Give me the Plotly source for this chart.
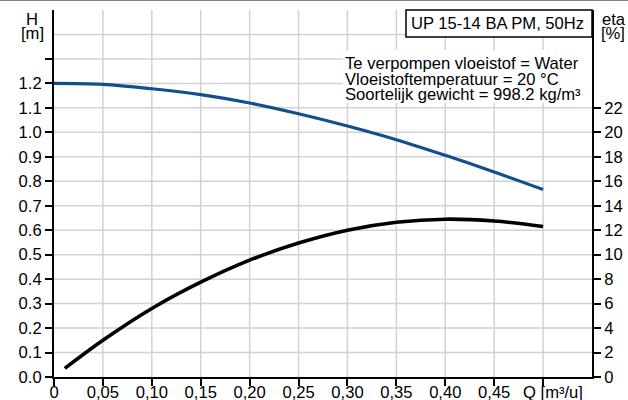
import plotly.graph_objects as go

# ---- data ----
q_h = [0.00, 0.05, 0.10, 0.15, 0.20, 0.25, 0.30, 0.35, 0.40, 0.45, 0.50]
h_m = [1.200, 1.196, 1.178, 1.154, 1.120, 1.076, 1.026, 0.970, 0.906, 0.838, 0.766]

q_eta = [0.011, 0.05, 0.10, 0.15, 0.20, 0.25, 0.30, 0.35, 0.40, 0.45, 0.50]
eta_pct = [0.7, 3.0, 5.6, 7.75, 9.55, 10.95, 12.0, 12.65, 12.9, 12.75, 12.3]

x_tickvals = [0, 0.05, 0.10, 0.15, 0.20, 0.25, 0.30, 0.35, 0.40, 0.45, 0.50]
x_ticktext = ["0", "0,05", "0,10", "0,15", "0,20", "0,25", "0,30", "0,35", "0,40", "0,45", ""]
h_tickvals = [0, 0.1, 0.2, 0.3, 0.4, 0.5, 0.6, 0.7, 0.8, 0.9, 1.0, 1.1, 1.2, 1.3]
h_ticktext = ["0.0", "0.1", "0.2", "0.3", "0.4", "0.5", "0.6", "0.7", "0.8", "0.9", "1.0", "1.1", "1.2", ""]
eta_tickvals = [0, 2, 4, 6, 8, 10, 12, 14, 16, 18, 20, 22]
h_grid = [0.1, 0.2, 0.3, 0.4, 0.5, 0.6, 0.7, 0.8, 0.9, 1.0, 1.1, 1.2, 1.3, 1.4]
q_grid = [0.05, 0.10, 0.15, 0.20, 0.25, 0.30, 0.35, 0.40, 0.45, 0.50]

title_text = "UP 15-14 BA PM, 50Hz"
info_lines = ["Te verpompen vloeistof = Water",
              "Vloeistoftemperatuur = 20 °C",
              "Soortelijk gewicht = 998.2 kg/m³"]

FONT = "Liberation Sans, Arial, sans-serif"
TXT = 16.6
W, H = 628, 400
ML, MR, MT, MB = 54, 36, 10, 23
PW, PH = W - ML - MR, H - MT - MB


def px_x(px):
    return (px - ML) / PW


def px_y(py):
    return (H - MB - py) / PH


fig = go.Figure()
fig.add_trace(go.Scatter(x=q_h, y=h_m, mode="lines", line=dict(color="#11508c", width=3.2, shape="spline"),
                         yaxis="y", hoverinfo="skip", showlegend=False))
fig.add_trace(go.Scatter(x=q_eta, y=eta_pct, mode="lines", line=dict(color="#000000", width=3.6, shape="spline"),
                         yaxis="y2", hoverinfo="skip", showlegend=False))

grid_col = "#d2d2d2"
for v in q_grid:
    fig.add_shape(type="line", xref="x", yref="paper", x0=v, x1=v, y0=0, y1=1,
                  line=dict(color=grid_col, width=1.5), layer="below")
for v in h_grid:
    fig.add_shape(type="line", xref="paper", yref="y", x0=0, x1=1, y0=v, y1=v,
                  line=dict(color=grid_col, width=1.5), layer="below")

# white background behind info text
fig.add_shape(type="rect", xref="paper", yref="paper", x0=px_x(343), x1=1, y0=px_y(103), y1=px_y(50),
              fillcolor="white", line=dict(width=0), layer="above")
# title box
fig.add_shape(type="rect", xref="paper", yref="paper", x0=px_x(406), x1=1, y0=px_y(37), y1=1,
              fillcolor="white", line=dict(color="black", width=1.5), layer="above")
# top border of image
fig.add_shape(type="line", xref="paper", yref="paper", x0=px_x(0), x1=px_x(W), y0=px_y(0.5), y1=px_y(0.5),
              line=dict(color="#808080", width=1), layer="above")

fig.add_annotation(text=title_text, xref="paper", yref="paper", x=px_x(497), y=px_y(23.5),
                   xanchor="center", yanchor="middle", showarrow=False, font=dict(size=TXT, color="black", family=FONT))
for line, yy in zip(info_lines, [63, 79, 94.5]):
    fig.add_annotation(text=line, xref="paper", yref="paper", x=px_x(343), y=px_y(yy),
                       xanchor="left", yanchor="middle", showarrow=False,
                       font=dict(size=TXT, color="black", family=FONT))

# axis titles
for txt, xx, yy in [("H", 32, 19.5), ("[m]", 32, 34), ("eta", 614, 19.5), ("[%]", 613, 33)]:
    fig.add_annotation(text=txt, xref="paper", yref="paper", x=px_x(xx), y=px_y(yy),
                       xanchor="center", yanchor="middle", showarrow=False,
                       font=dict(size=TXT, color="black", family=FONT))
fig.add_annotation(text="Q [m³/u]", xref="paper", yref="paper", x=px_x(553), y=px_y(392),
                   xanchor="center", yanchor="middle", showarrow=False,
                   font=dict(size=TXT, color="black", family=FONT))

axis_common = dict(showline=True, linecolor="black", linewidth=2, ticks="outside", ticklen=7,
                   tickwidth=2, tickcolor="black", showgrid=False, zeroline=False,
                   tickfont=dict(size=TXT, color="black", family=FONT))

fig.update_layout(
    width=W, height=H, margin=dict(l=ML, r=MR, t=MT, b=MB, autoexpand=False),
    paper_bgcolor="white", plot_bgcolor="white",
    xaxis=dict(range=[0, 0.55], tickmode="array", tickvals=x_tickvals, ticktext=x_ticktext,
               ticklabelstandoff=-8, **axis_common),
    yaxis=dict(range=[0, 1.5], tickmode="array", tickvals=h_tickvals, ticktext=h_ticktext, **axis_common),
    yaxis2=dict(range=[0, 30], tickmode="array", tickvals=eta_tickvals, overlaying="y", side="right",
                **axis_common),
    showlegend=False,
)

fig.write_html("out.html", config={"displayModeBar": False},
               post_script="document.body.style.margin='0';")
